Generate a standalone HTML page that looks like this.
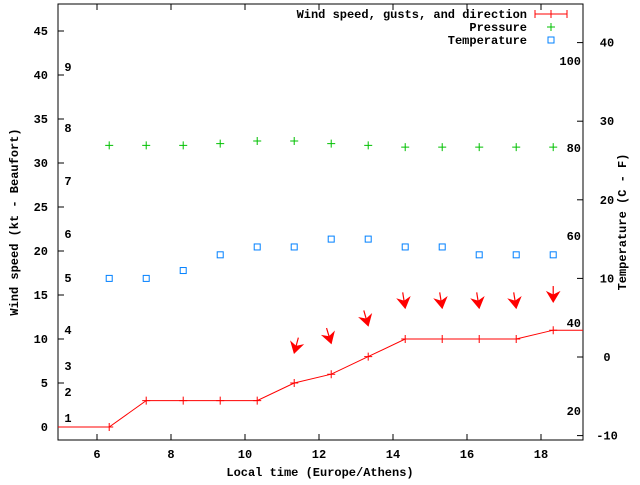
<!DOCTYPE html>
<html><head><meta charset="utf-8"><style>
body{margin:0;background:#fff}
svg text{font-family:"Liberation Mono",monospace;font-size:12px;font-weight:bold;fill:#000}
</style></head><body>
<svg id="chart" width="640" height="480" xmlns="http://www.w3.org/2000/svg"></svg>
<script>
const hours=[6.33,7.33,8.33,9.33,10.33,11.33,12.33,13.33,14.33,15.33,16.33,17.33,18.33];
const wind=[0,3,3,3,3,5,6,8,10,10,10,10,11];
const pressure=[32.0,32.0,32.0,32.2,32.5,32.5,32.2,32.0,31.8,31.8,31.8,31.8,31.8];
const temperature=[10,10,11,13,14,14,15,15,14,14,13,13,13];
const gustHours=[11.33,12.33,13.33,14.33,15.33,16.33,17.33,18.33];
const gusts=[8.4,9.5,11.5,13.5,13.5,13.5,13.5,14.2];
const dirTilt=[-15,17,16,9,9,9,9,0];
const xTicks=[6,8,10,12,14,16,18];
const yTicks=[0,5,10,15,20,25,30,35,40,45];
const y2Ticks=[-10,0,10,20,30,40];
const bftLabels=[["1",418],["2",392],["3",366],["4",330],["5",278],["6",234],["7",181],["8",128],["9",67]];
const fLabels=[["100",61],["80",148],["60",236],["40",323],["20",411]];
const L=58,R=583,T=4,B=440;
const X=h=>97+(h-6)*37;
const Y=v=>427-v*8.8;
const Y2=t=>357-t*7.86;
const svg=document.getElementById('chart');
const NS='http://www.w3.org/2000/svg';
function mk(tag,attrs,name,txt){const e=document.createElementNS(NS,tag);for(const k in attrs)e.setAttribute(k,attrs[k]);


if(txt!==undefined)e.textContent=txt;svg.appendChild(e);return e;}
mk('rect',{x:L,y:T,width:R-L,height:B-T,fill:'none',stroke:'#000','stroke-width':1},'plot-frame');
xTicks.forEach(h=>{const x=X(h);
mk('line',{x1:x,y1:B,x2:x,y2:B-6,stroke:'#000'},'x-tick');
mk('line',{x1:x,y1:T,x2:x,y2:T+6,stroke:'#000'},'x-tick-top');
mk('text',{x:x,y:B+18,'text-anchor':'middle'},'x-tick-label',String(h));});
yTicks.forEach(v=>{const y=Y(v);
mk('line',{x1:L,y1:y,x2:L+6,y2:y,stroke:'#000'},'y-tick');
mk('text',{x:L-10,y:y+4,'text-anchor':'end'},'y-tick-label',String(v));});
y2Ticks.forEach(t=>{const y=Y2(t);
mk('line',{x1:R,y1:y,x2:R-6,y2:y,stroke:'#000'},'y2-tick');
mk('text',{x:R+24,y:y+4,'text-anchor':'middle'},'y2-tick-label',String(t));});
bftLabels.forEach(([s,y])=>mk('text',{x:68,y:y+4,'text-anchor':'middle'},'beaufort-label',s));
fLabels.forEach(([s,y])=>mk('text',{x:581,y:y+4,'text-anchor':'end'},'fahrenheit-label',s));
mk('text',{x:320,y:476,'text-anchor':'middle'},'x-axis-title','Local time (Europe/Athens)');
mk('text',{x:18,y:222,'text-anchor':'middle',transform:'rotate(-90 18 222)'},'y-axis-title','Wind speed (kt - Beaufort)');
mk('text',{x:626,y:222,'text-anchor':'middle',transform:'rotate(-90 626 222)'},'y2-axis-title','Temperature (C - F)');
let pts=[[L,Y(wind[0])]];hours.forEach((h,i)=>pts.push([X(h),Y(wind[i])]));pts.push([R,Y(wind[wind.length-1])]);
mk('polyline',{points:pts.map(p=>p.join(',')).join(' '),fill:'none',stroke:'#f00','stroke-width':1},'wind-line');
hours.forEach((h,i)=>{const x=X(h),y=Y(wind[i]);
mk('path',{d:`M${x-4},${y}H${x+4}M${x},${y-4}V${y+4}`,stroke:'#f00'},'wind-point');});
gustHours.forEach((h,i)=>{const a=dirTilt[i]*Math.PI/180;const tx=X(h),ty=Y(gusts[i]);
const len=16,ux=Math.sin(a),uy=Math.cos(a);
const x1=tx-ux*len,y1=ty-uy*len;
mk('line',{x1:x1,y1:y1,x2:tx,y2:ty,stroke:'#f00','stroke-width':1.2},'gust-arrow-shaft');
const bx=tx-ux*10,by=ty-uy*10,px=-uy*6,py=ux*6;
mk('polygon',{points:`${tx},${ty} ${bx+px},${by+py} ${tx-ux*7},${ty-uy*7} ${bx-px},${by-py}`,fill:'#f00',stroke:'#f00'},'gust-arrow-head');});
hours.forEach((h,i)=>{const x=X(h),y=Y(pressure[i]);
mk('path',{d:`M${x-4},${y}H${x+4}M${x},${y-4}V${y+4}`,stroke:'#00c000'},'pressure-point');});
hours.forEach((h,i)=>{const x=X(h),y=Y2(temperature[i]);
mk('rect',{x:x-3,y:y-3,width:6,height:6,fill:'none',stroke:'#0080ff'},'temperature-point');});
mk('text',{x:527,y:18,'text-anchor':'end'},'legend-wind-label','Wind speed, gusts, and direction');
mk('path',{d:'M535,14H567M535,10V18M567,10V18M551,10V18',stroke:'#f00'},'legend-wind-sample');
mk('text',{x:527,y:31,'text-anchor':'end'},'legend-pressure-label','Pressure');
mk('path',{d:'M547,27H555M551,23V31',stroke:'#00c000'},'legend-pressure-sample');
mk('text',{x:527,y:44,'text-anchor':'end'},'legend-temperature-label','Temperature');
mk('rect',{x:548,y:37,width:6,height:6,fill:'none',stroke:'#0080ff'},'legend-temperature-sample');
</script>
</body></html>
